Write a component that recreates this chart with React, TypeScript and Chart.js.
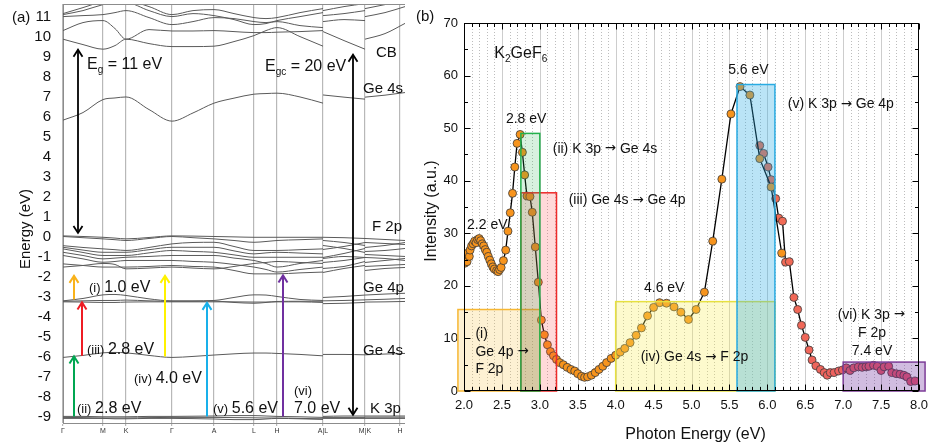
import React, { useEffect, useRef } from 'react';
import { Chart, registerables } from 'chart.js';

Chart.register(...registerables);

const FONT = '"Liberation Sans", Arial, Helvetica, sans-serif';
const ARROW_FONT = '"DejaVu Sans", sans-serif';

// ================= Panel (a): band structure =================
const kPointPositions = [0, 40, 63, 109, 151, 191, 214, 260, 302, 337];
const kPointLabels = ['Γ', 'M', 'K', 'Γ', 'A', 'L', 'H', 'A|L', 'M|K', 'H'];
const energyTicks = [-9, -8, -7, -6, -5, -4, -3, -2, -1, 0, 1, 2, 3, 4, 5, 6, 7, 8, 9, 10, 11];

const kSeg1 = [0, 20, 40, 52, 63, 86, 109, 130, 151, 171, 191, 203, 214, 237, 260];
const kSeg2 = [260, 281, 302];
const kSeg3 = [302, 322, 342];

const conductionSeg1 = [
  [5.82, 6.2, 6.85, 6.93, 6.98, 6.35, 5.77, 6.18, 6.67, 6.92, 7.12, 7.15, 7.17, 6.98, 6.67],
  [9.87, 9.6, 9.37, 9.55, 9.87, 9.65, 9.5, 9.5, 9.52, 9.75, 10.05, 10.3, 10.45, 10.0, 9.52],
  [10.3, 10.7, 10.8, 10.4, 9.87, 10.35, 10.28, 10.28, 10.3, 10.25, 10.2, 10.2, 10.22, 10.25, 10.3],
  [11.0, 11.05, 11.1, 11.2, 11.3, 10.95, 10.6, 10.75, 10.95, 10.9, 10.75, 10.7, 10.75, 10.55, 10.45],
  [11.1, 11.3, 11.6, 11.7, 11.7, 11.3, 11.0, 11.15, 11.05, 10.85, 10.6, 10.65, 10.8, 11.0, 11.2],
  [11.15, 11.45, 11.75, 11.8, 11.8, 11.5, 11.1, 11.3, 11.35, 11.15, 10.95, 10.9, 10.95, 11.2, 11.4],
];
const conductionSeg2 = [
  [7.08, 6.97, 6.87],
  [10.25, 9.8, 9.37],
  [10.75, 10.85, 10.8],
  [11.05, 11.15, 11.3],
  [11.3, 11.5, 11.65],
];
const conductionSeg3 = [
  [6.97, 7.07, 7.2],
  [9.87, 10.15, 10.66],
  [11.0, 11.2, 11.5],
  [11.4, 11.6, 11.8],
];

const f2pSeg1 = [
  [0.03, 0.0, -0.04, -0.08, -0.12, -0.05, 0.03, 0.02, 0.0, -0.02, -0.04, -0.04, -0.04, -0.04, -0.04],
  [0.0, -0.06, -0.12, -0.16, -0.2, -0.1, 0.0, -0.06, -0.12, -0.2, -0.29, -0.25, -0.2, -0.16, -0.12],
  [-0.46, -0.55, -0.62, -0.66, -0.7, -0.55, -0.37, -0.3, -0.29, -0.5, -0.7, -0.7, -0.7, -0.66, -0.62],
  [-0.54, -0.68, -0.79, -0.79, -0.79, -0.66, -0.54, -0.54, -0.54, -0.72, -0.87, -0.82, -0.79, -0.83, -0.87],
  [-0.62, -0.8, -0.95, -0.95, -0.95, -0.82, -0.7, -0.75, -0.79, -0.92, -1.04, -1.04, -1.04, -1.04, -1.04],
  [-0.79, -0.95, -1.12, -1.08, -1.04, -1.0, -0.95, -0.95, -0.95, -1.08, -1.2, -1.35, -1.53, -1.35, -1.2],
  [-0.95, -1.12, -1.29, -1.25, -1.2, -1.2, -1.2, -1.25, -1.29, -1.4, -1.53, -1.65, -1.78, -1.65, -1.53],
  [-1.37, -1.45, -1.53, -1.53, -1.53, -1.5, -1.45, -1.5, -1.53, -1.7, -1.87, -1.87, -1.87, -1.82, -1.78],
  [-1.53, -1.45, -1.35, -1.4, -1.62, -1.58, -1.53, -1.58, -1.62, -1.5, -1.35, -1.3, -1.25, -1.3, -1.35],
];
const f2pSeg2 = [
  [-0.04, -0.06, -0.1], [-0.2, -0.3, -0.45], [-0.45, -0.6, -0.8], [-0.65, -0.5, -0.3],
  [-1.05, -0.85, -0.6], [-1.1, -1.0, -1.05], [-1.3, -1.2, -1.05], [-1.6, -1.5, -1.25], [-1.8, -1.6, -1.45],
];
const f2pSeg3 = [
  [-0.1, -0.15, -0.2], [-0.3, -0.35, -0.4], [-0.55, -0.45, -0.3], [-0.75, -0.7, -0.6],
  [-0.9, -0.95, -1.0], [-1.05, -1.1, -1.2], [-1.3, -1.2, -1.1], [-1.5, -1.45, -1.4], [-1.7, -1.6, -1.55],
];

const ge4pSeg1 = [
  [-3.22, -3.1, -2.92, -2.9, -2.95, -3.12, -3.22, -3.22, -3.2, -3.05, -2.92, -2.93, -3.0, -3.15, -3.2],
  [-3.24, -3.22, -3.2, -3.2, -3.18, -3.22, -3.24, -3.24, -3.23, -3.3, -3.34, -3.3, -3.25, -3.24, -3.24],
  [-3.27, -3.28, -3.3, -3.3, -3.28, -3.27, -3.27, -3.27, -3.27, -3.27, -3.28, -3.28, -3.27, -3.27, -3.3],
];
const ge4pSeg2 = [[-3.05, -3.0, -2.93], [-3.22, -3.2, -3.17], [-3.36, -3.34, -3.3]];
const ge4pSeg3 = [[-2.93, -2.88, -2.84], [-3.17, -3.14, -3.1], [-3.28, -3.27, -3.25]];

const ge4sSeg1 = [[-6.05, -5.95, -5.82, -5.8, -5.82, -5.95, -6.05, -6.0, -5.93, -5.87, -5.83, -5.83, -5.85, -5.9, -5.97]];
const ge4sSeg2 = [[-5.9, -5.9, -5.92]];
const ge4sSeg3 = [[-5.92, -5.88, -5.85]];

const k3pSeg1 = [
  [-9.0, -9.0, -9.02, -9.02, -9.02, -9.0, -9.0, -8.99, -8.98, -8.96, -8.96, -8.98, -9.0, -9.02, -9.05],
  [-9.05, -9.06, -9.08, -9.08, -9.08, -9.06, -9.05, -9.05, -9.05, -9.06, -9.07, -9.08, -9.08, -9.1, -9.12],
  [-9.1, -9.1, -9.1, -9.12, -9.12, -9.1, -9.1, -9.11, -9.13, -9.16, -9.16, -9.13, -9.1, -9.12, -9.15],
];
const k3pSeg2 = [[-9.0, -8.98, -8.98], [-9.05, -9.05, -9.05], [-9.1, -9.1, -9.1]];
const k3pSeg3 = [[-8.98, -8.98, -8.98], [-9.04, -9.04, -9.04], [-9.1, -9.1, -9.1]];

// transitions: k position, from energy, to energy
const arrowK = [15, 290, 11, 19, 11, 102, 144, 220];
const arrowFrom = [0.18, -8.92, -3.15, -5.97, -9.0, -6.0, -9.0, -9.0];
const arrowTo = [9.34, 9.09, -1.97, -3.3, -6.0, -1.97, -3.32, -1.95];
const arrowStyle = [
  { color: '#000000', both: true, lw: 1.8 },
  { color: '#000000', both: true, lw: 1.8 },
  { color: '#f9b21a', both: false, lw: 2 },
  { color: '#ee1c24', both: false, lw: 2 },
  { color: '#00a651', both: false, lw: 2 },
  { color: '#fff200', both: false, lw: 2 },
  { color: '#19b0ea', both: false, lw: 2 },
  { color: '#7030a0', both: false, lw: 2 },
];

// ================= Panel (b): spectrum =================
const seriesAEnergy = [
  2.00, 2.01, 2.02, 2.04, 2.05, 2.07, 2.08, 2.10, 2.12, 2.14, 2.16, 2.18, 2.20, 2.22, 2.24, 2.26, 2.28, 2.30,
  2.32, 2.34, 2.36, 2.38, 2.40, 2.43, 2.45, 2.47, 2.49, 2.52, 2.55, 2.58, 2.61, 2.64, 2.67, 2.70, 2.74, 2.77,
  2.80, 2.83, 2.87, 2.90, 2.94, 2.98, 3.02, 3.06, 3.10, 3.14, 3.18, 3.22, 3.26, 3.31, 3.36, 3.41, 3.46, 3.50,
  3.55, 3.59, 3.63, 3.68, 3.73, 3.78, 3.83, 3.88, 3.94, 4.00, 4.06, 4.12, 4.19, 4.27, 4.34, 4.42, 4.50, 4.58,
  4.67, 4.77, 4.86, 4.96, 5.06, 5.17, 5.28, 5.40, 5.52, 5.64, 5.77, 5.90, 6.05, 6.19,
];
const seriesAIntensity = [
  25.4, 24.3, 25.9, 24.6, 26.2, 25.6, 26.8, 27.6, 28.0, 28.5, 28.2, 28.8, 29.0, 28.6, 28.0, 27.6, 26.9, 26.4,
  25.6, 24.9, 24.2, 23.6, 23.2, 22.9, 22.7, 23.1, 23.5, 24.8, 26.8, 30.4, 33.9, 37.6, 42.6, 47.1, 48.8, 45.4,
  41.1, 37.1, 37.0, 34.0, 27.4, 20.7, 13.5, 10.7, 8.8, 7.5, 6.7, 6.0, 5.4, 5.0, 4.5, 4.1, 3.8, 3.3,
  2.8, 2.6, 2.7, 3.0, 3.5, 4.1, 4.7, 5.4, 6.2, 6.8, 7.4, 8.1, 9.2, 10.6, 12.0, 14.3, 15.9, 16.8,
  16.7, 16.0, 15.0, 13.6, 15.5, 18.8, 28.5, 40.3, 52.7, 57.9, 56.3, 44.2, 38.8, 26.2,
];
const seriesBEnergy = [
  5.90, 5.95, 6.01, 6.05, 6.11, 6.15, 6.20, 6.24, 6.29, 6.35, 6.40, 6.45, 6.50, 6.55, 6.59, 6.64, 6.70, 6.75,
  6.79, 6.83, 6.88, 6.94, 6.99, 7.04, 7.09, 7.14, 7.20, 7.25, 7.30, 7.34, 7.40, 7.45, 7.50, 7.54, 7.60, 7.64,
  7.70, 7.75, 7.80, 7.84, 7.89, 7.95,
];
const seriesBIntensity = [
  46.7, 45.2, 42.6, 40.2, 36.6, 32.9, 32.3, 24.5, 24.6, 17.8, 15.5, 12.5, 10.2, 7.8, 5.9, 4.8, 4.1, 3.5,
  3.0, 3.5, 3.5, 3.8, 4.0, 4.4, 3.9, 4.4, 4.6, 4.5, 4.6, 4.7, 4.9, 4.7, 3.9, 4.6, 4.7, 3.5,
  3.3, 3.2, 3.0, 2.7, 1.8, 1.9,
];
const photonTicks = [2.0, 2.5, 3.0, 3.5, 4.0, 4.5, 5.0, 5.5, 6.0, 6.5, 7.0, 7.5, 8.0];
const intensityTicks = [0, 10, 20, 30, 40, 50, 60, 70];

// transition windows (i) (iii) (ii) (iv) (v) (vi)
const regionStart = [1.92, 2.75, 2.75, 4.0, 5.6, 7.0];
const regionEnd = [3.0, 3.22, 3.0, 6.1, 6.1, 8.08];
const regionTop = [15.5, 37.7, 49.0, 17.0, 58.3, 5.5];
const regionFill = [
  'rgba(249,199,79,0.25)', 'rgba(255,64,64,0.2)', 'rgba(34,177,76,0.18)',
  'rgba(250,240,90,0.3)', 'rgba(41,171,226,0.32)', 'rgba(112,48,160,0.32)',
];
const regionStroke = ['#f7b733', '#ee2a2a', '#22b14c', '#e6e040', '#29abe2', '#7d3c98'];

type Run = [string, number, number?];

function drawRuns(ctx: CanvasRenderingContext2D, runsIn: Run[], x: number, cy: number, align = 'left', color = '#111') {
  // split arrows into their own runs (drawn with a font that has a full-size arrow)
  const runs: { t: string; s: number; dy: number; f: string }[] = [];
  runsIn.forEach((r) => {
    const parts = r[0].split(/(→)/);
    parts.forEach((p) => {
      if (!p) return;
      if (p === '→') runs.push({ t: p, s: r[1] * 0.95, dy: (r[2] || 0) - r[1] * 0.02, f: ARROW_FONT });
      else runs.push({ t: p, s: r[1], dy: r[2] || 0, f: FONT });
    });
  });
  const main = Math.max(...runsIn.map((r) => r[1]));
  const widths = runs.map((r) => {
    ctx.font = `${r.s}px ${r.f}`;
    return ctx.measureText(r.t).width;
  });
  const total = widths.reduce((a, b) => a + b, 0);
  let cx = align === 'center' ? x - total / 2 : align === 'right' ? x - total : x;
  const base = cy + main * 0.36;
  ctx.fillStyle = color;
  ctx.textAlign = 'left';
  ctx.textBaseline = 'alphabetic';
  runs.forEach((r, i) => {
    ctx.font = `${r.s}px ${r.f}`;
    ctx.fillText(r.t, cx, base + r.dy);
    cx += widths[i];
  });
}

function vArrow(ctx: CanvasRenderingContext2D, x: number, yFrom: number, yTo: number, color: string, lw: number, both: boolean) {
  ctx.save();
  ctx.strokeStyle = color;
  ctx.lineWidth = lw;
  ctx.lineJoin = 'miter';
  ctx.beginPath();
  ctx.moveTo(x, yFrom);
  ctx.lineTo(x, yTo);
  ctx.stroke();
  const head = (tip: number, other: number) => {
    const d = tip < other ? 1 : -1;
    ctx.beginPath();
    ctx.moveTo(x - 4.5, tip + d * 7);
    ctx.lineTo(x, tip);
    ctx.lineTo(x + 4.5, tip + d * 7);
    ctx.stroke();
  };
  head(yTo, yFrom);
  if (both) head(yFrom, yTo);
  ctx.restore();
}

export default function App() {
  const refA = useRef<HTMLCanvasElement>(null);
  const refB = useRef<HTMLCanvasElement>(null);

  useEffect(() => {
    document.body.style.margin = '0';

    // ---------- chart (a) ----------
    const groups: [number[], number[][]][] = [
      [kSeg1, conductionSeg1], [kSeg2, conductionSeg2], [kSeg3, conductionSeg3],
      [kSeg1, f2pSeg1], [kSeg2, f2pSeg2], [kSeg3, f2pSeg3],
      [kSeg1, ge4pSeg1], [kSeg2, ge4pSeg2], [kSeg3, ge4pSeg3],
      [kSeg1, ge4sSeg1], [kSeg2, ge4sSeg2], [kSeg3, ge4sSeg3],
      [kSeg1, k3pSeg1], [kSeg2, k3pSeg2], [kSeg3, k3pSeg3],
    ];
    const bandDatasets = groups.flatMap(([ks, bands]) =>
      bands.map((b) => ({
        data: ks.map((k, i) => ({ x: k, y: b[i] })),
        showLine: true,
        borderColor: '#5a5a5a',
        borderWidth: 1,
        pointRadius: 0,
        cubicInterpolationMode: 'monotone',
        fill: false,
      }))
    );

    const textsA: { runs: Run[]; k: number; e: number }[] = [
      { runs: [['E', 16], ['g', 10, 4], [' = 11 eV', 16]], k: 24, e: 8.68 },
      { runs: [['E', 16], ['gc', 10, 4], [' = 20 eV', 16]], k: 202, e: 8.58 },
      { runs: [['CB', 15]], k: 313, e: 9.25 },
      { runs: [['Ge 4s', 15]], k: 300, e: 7.46 },
      { runs: [['F 2p', 15]], k: 309, e: 0.53 },
      { runs: [['Ge 4p', 15]], k: 300, e: -2.51 },
      { runs: [['Ge 4s', 15]], k: 300, e: -5.64 },
      { runs: [['K 3p', 15]], k: 307, e: -8.54 },
      { runs: [['(i) ', 13], ['1.0 eV', 16]], k: 26, e: -2.51 },
      { runs: [['(iii) ', 13], ['2.8 eV', 16]], k: 24, e: -5.59 },
      { runs: [['(iv) ', 13], ['4.0 eV', 16]], k: 71, e: -7.04 },
      { runs: [['(ii) ', 13], ['2.8 eV', 16]], k: 14, e: -8.54 },
      { runs: [['(v) ', 13], ['5.6 eV', 16]], k: 150, e: -8.54 },
      { runs: [['(vi)', 13]], k: 231, e: -7.68 },
      { runs: [['7.0 eV', 16]], k: 231, e: -8.54 },
    ];

    const decorA = {
      id: 'decorA',
      afterDatasetsDraw(chart: any) {
        const { ctx, chartArea: ca, scales } = chart;
        const xs = scales.x;
        const ys = scales.y;
        ctx.save();
        ctx.strokeStyle = '#8c8c8c';
        ctx.lineWidth = 1;
        ctx.beginPath();
        ctx.moveTo(ca.left, Math.round(ca.top) + 0.5);
        ctx.lineTo(ca.right, Math.round(ca.top) + 0.5);
        ctx.stroke();
        arrowK.forEach((k, i) => {
          const st = arrowStyle[i];
          vArrow(ctx, xs.getPixelForValue(k), ys.getPixelForValue(arrowFrom[i]), ys.getPixelForValue(arrowTo[i]), st.color, st.lw, st.both);
        });
        textsA.forEach((t) => drawRuns(ctx, t.runs, xs.getPixelForValue(t.k), ys.getPixelForValue(t.e)));
        drawRuns(ctx, [['(a)', 15]], 12, 17);
        ctx.translate(25, 229);
        ctx.rotate(-Math.PI / 2);
        drawRuns(ctx, [['Energy (eV)', 15]], 0, 0, 'center');
        ctx.restore();
      },
    };

    const chartA = new Chart(refA.current as HTMLCanvasElement, {
      type: 'scatter',
      data: { datasets: bandDatasets as any },
      options: {
        responsive: false,
        animation: false,
        events: [],
        devicePixelRatio: 1,
        layout: { padding: { left: 0, right: 0, top: 4, bottom: 0 } },
        plugins: { legend: { display: false }, tooltip: { enabled: false } },
        scales: {
          x: {
            type: 'linear',
            min: 0,
            max: 342,
            afterBuildTicks: (s: any) => { s.ticks = kPointPositions.map((v) => ({ value: v })); },
            afterFit: (s: any) => { s.height = 20; s.paddingLeft = 0; s.paddingRight = 0; },
            ticks: {
              callback: (_v: any, i: number) => kPointLabels[i],
              font: { size: 7, family: FONT },
              color: '#333',
              padding: 1,
              maxRotation: 0,
              autoSkip: false,
            },
            grid: { color: '#b8b8b8', lineWidth: 1.2, drawTicks: true, tickLength: 3 },
            border: { display: true, color: '#8c8c8c' },
          },
          y: {
            type: 'linear',
            min: -9.33,
            max: 11.63,
            afterBuildTicks: (s: any) => { s.ticks = energyTicks.map((v) => ({ value: v })); },
            afterFit: (s: any) => { s.width = 63; s.paddingTop = 0; s.paddingBottom = 0; },
            ticks: {
              callback: (v: any) => String(v),
              font: { size: 15, family: FONT },
              color: '#111',
              padding: 12,
              autoSkip: false,
            },
            grid: { display: false, drawTicks: false },
            border: { display: true, color: '#8c8c8c' },
          },
        },
      } as any,
      plugins: [decorA],
    });

    // ---------- chart (b) ----------
    const mixB = (x: number) => {
      const t = Math.min(1, Math.max(0, (x - 5.9) / 2.1));
      const r = Math.round(243 + (232 - 243) * t);
      const g = Math.round(110 + (84 - 110) * t);
      const b = Math.round(80 + (112 - 80) * t);
      return `rgb(${r},${g},${b})`;
    };

    const textsB: { runs: Run[]; x: number; y: number; align?: string }[] = [
      { runs: [['K', 16], ['2', 10, 4], ['GeF', 16], ['6', 10, 4]], x: 2.4, y: 64.5 },
      { runs: [['5.6 eV', 14]], x: 5.75, y: 61.2, align: 'center' },
      { runs: [['(v) K 3p → Ge 4p', 14]], x: 6.27, y: 54.8 },
      { runs: [['2.8 eV', 14]], x: 2.82, y: 52.0, align: 'center' },
      { runs: [['(ii) K 3p → Ge 4s', 14]], x: 3.17, y: 46.3 },
      { runs: [['(iii) Ge 4s → Ge 4p', 14]], x: 3.38, y: 36.5 },
      { runs: [['2.2 eV', 14]], x: 2.04, y: 31.7 },
      { runs: [['4.6 eV', 14]], x: 4.64, y: 19.8, align: 'center' },
      { runs: [['(i)', 14]], x: 2.15, y: 11.0 },
      { runs: [['Ge 4p →', 14]], x: 2.15, y: 7.7 },
      { runs: [['F 2p', 14]], x: 2.15, y: 4.4 },
      { runs: [['(iv) Ge 4s → F 2p', 14]], x: 4.33, y: 6.6 },
      { runs: [['(vi) K 3p →', 14]], x: 7.37, y: 14.7, align: 'center' },
      { runs: [['F 2p', 14]], x: 7.38, y: 11.2, align: 'center' },
      { runs: [['7.4 eV', 14]], x: 7.38, y: 7.8, align: 'center' },
    ];

    const decorB = {
      id: 'decorB',
      beforeDatasetsDraw(chart: any) {
        const { ctx, chartArea: ca, scales } = chart;
        const xs = scales.x;
        ctx.save();
        for (let i = 21; i < 80; i++) {
          const px = Math.round(xs.getPixelForValue(i / 10)) + 0.5;
          ctx.beginPath();
          if (i % 5 === 0) {
            ctx.setLineDash([]);
            ctx.strokeStyle = '#cdcdcd';
            ctx.lineWidth = 1;
          } else {
            ctx.setLineDash([1, 2]);
            ctx.strokeStyle = '#bdbdbd';
            ctx.lineWidth = 1;
          }
          ctx.moveTo(px, ca.top);
          ctx.lineTo(px, ca.bottom);
          ctx.stroke();
        }
        ctx.restore();
      },
      afterDatasetsDraw(chart: any) {
        const { ctx, chartArea: ca, scales } = chart;
        const xs = scales.x;
        const ys = scales.y;
        ctx.save();
        // transition windows
        regionStart.forEach((x0, i) => {
          const l = xs.getPixelForValue(x0);
          const r = xs.getPixelForValue(regionEnd[i]);
          const t = ys.getPixelForValue(regionTop[i]);
          const b = ys.getPixelForValue(0);
          ctx.fillStyle = regionFill[i];
          ctx.fillRect(l, t, r - l, b - t);
          ctx.strokeStyle = regionStroke[i];
          ctx.lineWidth = 1.5;
          ctx.strokeRect(l, t, r - l, b - t);
        });
        // frame
        ctx.strokeStyle = '#000';
        ctx.lineWidth = 1;
        const L = Math.round(ca.left) + 0.5;
        const R = Math.round(ca.right) - 0.5;
        const T = Math.round(ca.top) + 0.5;
        const B = Math.round(ca.bottom) - 0.5;
        ctx.strokeRect(L, T, R - L, B - T);
        // inner ticks
        ctx.beginPath();
        for (let i = 20; i <= 80; i++) {
          const px = Math.round(xs.getPixelForValue(i / 10)) + 0.5;
          const len = i % 5 === 0 ? 6 : 3.5;
          ctx.moveTo(px, B);
          ctx.lineTo(px, B - len);
          ctx.moveTo(px, T);
          ctx.lineTo(px, T + len);
        }
        for (let v = 0; v <= 70; v += 5) {
          const py = Math.round(ys.getPixelForValue(v)) + 0.5;
          const len = v % 10 === 0 ? 6 : 3.5;
          ctx.moveTo(L, py);
          ctx.lineTo(L + len, py);
          ctx.moveTo(R, py);
          ctx.lineTo(R - len, py);
        }
        ctx.stroke();
        // texts
        textsB.forEach((t) => drawRuns(ctx, t.runs, xs.getPixelForValue(t.x), ys.getPixelForValue(t.y), t.align || 'left'));
        drawRuns(ctx, [['(b)', 15]], 11, 16);
        drawRuns(ctx, [['Photon Energy (eV)', 16]], (ca.left + ca.right) / 2 + 4, 433, 'center');
        ctx.translate(25, 211);
        ctx.rotate(-Math.PI / 2);
        drawRuns(ctx, [['Intensity (a.u.)', 16]], 0, 0, 'center');
        ctx.restore();
      },
    };

    const chartB = new Chart(refB.current as HTMLCanvasElement, {
      type: 'scatter',
      data: {
        datasets: [
          {
            data: seriesAEnergy.map((x, i) => ({ x, y: seriesAIntensity[i] })),
            showLine: true,
            borderColor: '#000',
            borderWidth: 1.3,
            pointRadius: 4,
            pointBackgroundColor: '#f7941d',
            pointBorderColor: '#3a3a3a',
            pointBorderWidth: 0.8,
          },
          {
            data: seriesBEnergy.map((x, i) => ({ x, y: seriesBIntensity[i] })),
            showLine: true,
            borderColor: '#000',
            borderWidth: 1.3,
            pointRadius: 4,
            pointBackgroundColor: (c: any) => mixB(seriesBEnergy[c.dataIndex] ?? 7),
            pointBorderColor: '#3a3a3a',
            pointBorderWidth: 0.8,
          },
        ] as any,
      },
      options: {
        responsive: false,
        animation: false,
        events: [],
        devicePixelRatio: 1,
        layout: { padding: { left: 0, right: 20, top: 23, bottom: 0 } },
        plugins: { legend: { display: false }, tooltip: { enabled: false } },
        scales: {
          x: {
            type: 'linear',
            min: 2,
            max: 8,
            afterBuildTicks: (s: any) => { s.ticks = photonTicks.map((v) => ({ value: v })); },
            afterFit: (s: any) => { s.height = 52; s.paddingLeft = 0; s.paddingRight = 0; },
            ticks: {
              callback: (v: any) => Number(v).toFixed(1),
              font: { size: 13, family: FONT },
              color: '#111',
              padding: 7,
              maxRotation: 0,
              autoSkip: false,
            },
            grid: { display: false, drawTicks: false },
            border: { display: false },
          },
          y: {
            type: 'linear',
            min: 0,
            max: 70,
            afterBuildTicks: (s: any) => { s.ticks = intensityTicks.map((v) => ({ value: v })); },
            afterFit: (s: any) => { s.width = 59; s.paddingTop = 0; s.paddingBottom = 0; },
            ticks: {
              callback: (v: any) => String(v),
              font: { size: 13, family: FONT },
              color: '#111',
              padding: 6,
              autoSkip: false,
            },
            grid: { display: false, drawTicks: false },
            border: { display: false },
          },
        },
      } as any,
      plugins: [decorB],
    });

    return () => {
      chartA.destroy();
      chartB.destroy();
    };
  }, []);

  return (
    <div style={{ position: 'relative', width: 939, height: 443, background: '#fff', overflow: 'hidden' }}>
      <canvas ref={refA} width={405} height={443} style={{ position: 'absolute', left: 0, top: 0, width: 405, height: 443 }} />
      <canvas ref={refB} width={534} height={443} style={{ position: 'absolute', left: 405, top: 0, width: 534, height: 443 }} />
    </div>
  );
}
